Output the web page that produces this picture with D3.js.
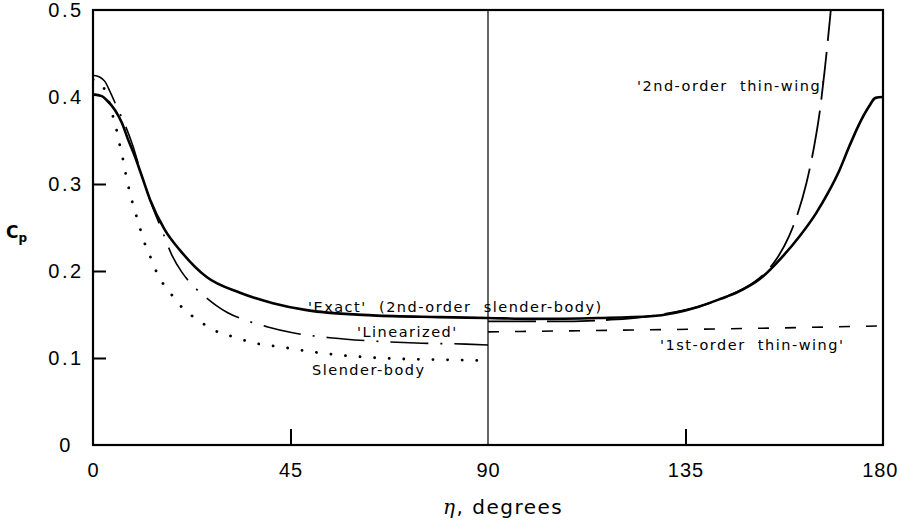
<!DOCTYPE html>
<meta charset="utf-8">
<script src="https://d3js.org/d3.v7.min.js"></script>
<style>
body { margin: 0; background: #fff; }
svg { font-family: "DejaVu Sans", sans-serif; }
.axis path { display: none; }
.axis line { stroke: #000; stroke-width: 2px; }
.axis text { font-size: 20px; fill: #000; }
.x.axis text { letter-spacing: 1px; }
.y.axis text { letter-spacing: 2.5px; }
.curve { fill: none; stroke: #000; }
.lbl { font-size: 14.5px; fill: #000; letter-spacing: 1.5px; }
</style>
<body></body>
<script>

// pressure coefficient curves
var exactEta = [0, 2, 3.2, 5, 6.6, 8, 9.6, 11.2, 13, 16.4, 19.8, 25.9, 33.5, 41, 48.7, 63.7, 79, 90, 100, 115, 127, 138, 143, 147, 152, 157, 161, 164.7, 167.5, 170, 172.3, 174.5, 176.8, 178.3, 180];
var exactCp  = [0.403, 0.401, 0.396, 0.385, 0.370, 0.351, 0.331, 0.308, 0.282, 0.247, 0.224, 0.193, 0.175, 0.163, 0.155, 0.149, 0.147, 0.146, 0.145, 0.146, 0.148, 0.159, 0.168, 0.176, 0.191, 0.216, 0.240, 0.266, 0.290, 0.315, 0.343, 0.368, 0.389, 0.399, 0.400];

var linEta = [0, 1.5, 2.7, 3.9, 5.5, 7.3, 9, 11, 13.4, 15.7, 18, 20.2, 23, 25.9, 28.2, 30.7, 35, 39.6, 45.5, 54.6, 62, 75, 85, 90];
var linCp  = [0.425, 0.423, 0.418, 0.406, 0.388, 0.368, 0.345, 0.312, 0.276, 0.247, 0.218, 0.199, 0.182, 0.169, 0.160, 0.152, 0.143, 0.136, 0.129, 0.123, 0.120, 0.117, 0.116, 0.115];

var slenderEta = [0, 1.5, 3, 4.3, 5.2, 6, 6.8, 7.6, 8.4, 9.6, 10.4, 11.4, 12.7, 14.1, 15.9, 18.2, 20.5, 23.2, 26.2, 28.9, 32.3, 36, 42.5, 50, 62, 70, 80, 90];
var slenderCp  = [0.420, 0.416, 0.405, 0.382, 0.366, 0.347, 0.329, 0.308, 0.290, 0.268, 0.255, 0.237, 0.221, 0.203, 0.186, 0.171, 0.157, 0.146, 0.136, 0.129, 0.124, 0.118, 0.113, 0.107, 0.101, 0.099, 0.098, 0.097];

var thin1Eta = [90, 120, 150, 180];
var thin1Cp  = [0.130, 0.132, 0.134, 0.137];

var thin2Eta = [90, 105, 118, 128, 138, 145, 150, 153, 155.5, 158.6, 160.5, 162.5, 164.3, 165.5, 166.7, 167.9, 168.3];
var thin2Cp  = [0.142, 0.142, 0.144, 0.149, 0.159, 0.172, 0.185, 0.197, 0.212, 0.240, 0.265, 0.300, 0.343, 0.380, 0.430, 0.489, 0.510];

var xTicks = [0, 45, 90, 135, 180];
var yTicks = [0, 0.1, 0.2, 0.3, 0.4, 0.5];

var svg = d3.select("body").append("svg")
    .attr("width", 900)
    .attr("height", 526);

var xScale = d3.scaleLinear().domain([0, 180]).range([93, 883]);
var yScale = d3.scaleLinear().domain([0, 0.5]).range([445, 10]);

function zip(a, b) { return a.map(function(v, i) { return [v, b[i]]; }); }

var line = d3.line()
    .x(function(d) { return xScale(d[0]); })
    .y(function(d) { return yScale(d[1]); })
    .curve(d3.curveMonotoneX);

svg.append("clipPath").attr("id", "plotClip")
  .append("rect")
    .attr("x", xScale(0)).attr("y", yScale(0.5))
    .attr("width", xScale(180) - xScale(0))
    .attr("height", yScale(0) - yScale(0.5));

// axes: labels
var xAxis = d3.axisBottom(xScale).tickValues(xTicks).tickSize(0).tickPadding(18);
var xg = svg.append("g").attr("class", "x axis")
    .attr("transform", "translate(0," + yScale(0) + ")")
    .call(xAxis);
// last label kept inside the page
xg.selectAll("text").filter(function(d) { return d === 180; })
    .attr("text-anchor", "end").attr("x", 15);

var yAxis = d3.axisLeft(yScale).tickValues(yTicks).tickSize(0)
    .tickFormat(function(d) { return d === 0 ? "0" : d3.format(".1f")(d); });
var yg = svg.append("g").attr("class", "y axis")
    .attr("transform", "translate(" + xScale(0) + ",0)")
    .call(yAxis);
yg.selectAll("text").attr("text-anchor", "middle").attr("x", -27);

// inward tick marks
svg.append("g").attr("class", "axis")
    .attr("transform", "translate(0," + yScale(0) + ")")
    .call(d3.axisBottom(xScale).tickValues([45, 135]).tickSize(-16).tickFormat(""));
svg.append("g").attr("class", "axis")
    .attr("transform", "translate(" + xScale(0) + ",0)")
    .call(d3.axisLeft(yScale).tickValues([0.1, 0.2, 0.3]).tickSize(-13).tickFormat(""));

// vertical line at 90 deg
svg.append("line")
    .attr("x1", xScale(90)).attr("x2", xScale(90))
    .attr("y1", yScale(0)).attr("y2", yScale(0.5))
    .attr("stroke", "#000").attr("stroke-width", 1.2);

// frame
svg.append("rect")
    .attr("x", xScale(0)).attr("y", yScale(0.5))
    .attr("width", xScale(180) - xScale(0))
    .attr("height", yScale(0) - yScale(0.5))
    .attr("fill", "none").attr("stroke", "#000").attr("stroke-width", 2.2);

var plot = svg.append("g").attr("clip-path", "url(#plotClip)");

plot.append("path").attr("class", "curve")
    .attr("d", line(zip(slenderEta, slenderCp)))
    .attr("stroke-width", 2.8)
    .attr("stroke-linecap", "round")
    .attr("stroke-dasharray", "0.1 14.5");

plot.append("path").attr("class", "curve")
    .attr("d", line(zip(linEta, linCp)))
    .attr("stroke-width", 1.6)
    .attr("stroke-dasharray", "38 12 2 12");

plot.append("path").attr("class", "curve")
    .attr("d", line(zip(thin1Eta, thin1Cp)))
    .attr("stroke-width", 1.6)
    .attr("stroke-dasharray", "11 16");

plot.append("path").attr("class", "curve")
    .attr("d", line(zip(thin2Eta, thin2Cp)))
    .attr("stroke-width", 1.8)
    .attr("stroke-dasharray", "48 11");

plot.append("path").attr("class", "curve")
    .attr("d", line(zip(exactEta, exactCp)))
    .attr("stroke-width", 2.6);

// curve labels
var labels = [
  {t: "'Exact'  (2nd-order  slender-body)", x: 308, y: 312},
  {t: "'Linearized'", x: 357, y: 337},
  {t: "Slender-body", x: 312, y: 375},
  {t: "'1st-order  thin-wing'", x: 660, y: 350},
  {t: "'2nd-order  thin-wing'", x: 637, y: 91}
];
svg.selectAll(".lbl").data(labels).enter().append("text")
    .attr("class", "lbl")
    .attr("x", function(d) { return d.x; })
    .attr("y", function(d) { return d.y; })
    .attr("xml:space", "preserve")
    .style("white-space", "pre")
    .text(function(d) { return d.t; });

// axis titles
var xt = svg.append("text")
    .attr("x", 443).attr("y", 514)
    .style("font-size", "20px").style("letter-spacing", "1.5px");
xt.append("tspan").style("font-family", "DejaVu Serif").style("font-style", "italic").text("η");
xt.append("tspan").text(", degrees");

var yt = svg.append("text")
    .attr("x", 6).attr("y", 238)
    .style("font-size", "17px").style("font-weight", "bold");
yt.append("tspan").text("C");
yt.append("tspan").attr("dy", 4).style("font-size", "12px").text("p");

</script>
